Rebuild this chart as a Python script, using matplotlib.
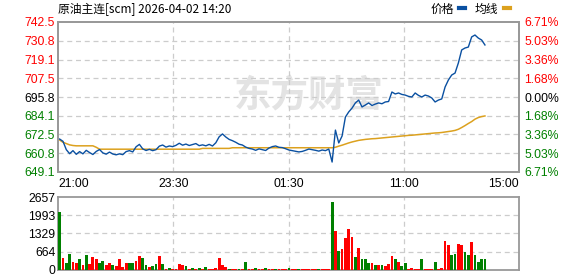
import matplotlib
matplotlib.use("Agg")
import matplotlib.pyplot as plt
from matplotlib.lines import Line2D
import numpy as np

plt.rcParams['font.family'] = ['Liberation Sans', 'Noto Sans CJK SC', 'DejaVu Sans']

# session is 555 minutes long, data sampled every 4 minutes up to 14:20
total_minutes = 555
step = 4

price = [669.6, 668.2, 663.0, 660.5, 662.4, 660.1, 661.8, 660.4, 662.6, 661.2,
         660.0, 661.9, 663.1, 661.0, 660.2, 661.5, 660.3, 659.8, 660.4, 659.9,
         661.8, 662.4, 661.6, 664.8, 666.3, 663.5, 662.5, 663.2, 662.4, 663.0,
         665.2, 665.9, 664.6, 665.3, 664.9, 665.7, 667.0, 665.8, 666.5, 665.6,
         666.2, 666.8, 665.5, 666.0, 665.4, 666.3, 665.3, 667.3, 671.0, 672.8,
         670.9, 669.4, 668.6, 667.6, 666.4, 665.9, 664.6, 663.8, 663.4, 662.6,
         663.5, 663.0, 662.5, 664.0, 664.9, 665.3, 664.5, 664.3, 663.6, 662.8,
         662.4, 662.0, 661.6, 661.9, 662.6, 663.4, 663.0, 662.6, 662.1, 662.8,
         662.4, 663.4, 655.3, 675.2, 667.2, 671.5, 683.3, 686.5, 688.9, 692.1,
         693.9, 689.6, 690.8, 692.1, 690.5, 691.4, 692.1, 691.6, 692.7, 693.0,
         698.9, 697.7, 698.3, 697.4, 697.0, 696.2, 695.8, 698.3, 696.8, 695.8,
         697.0, 696.4, 695.2, 692.7, 693.9, 694.6, 702.0, 706.4, 709.5, 710.7,
         717.0, 725.1, 726.3, 726.9, 733.2, 734.4, 732.5, 731.3, 728.2]

avg_price = [669.0, 667.6, 666.8, 666.0, 665.6, 665.4, 665.4, 665.4, 665.4, 665.4,
             665.4, 664.5, 663.3, 663.3, 663.3, 663.3, 663.3, 663.3, 663.3, 663.3,
             663.3, 663.3, 663.3, 663.3, 663.3, 663.3, 663.3, 663.3, 663.3, 663.3,
             663.3, 663.3, 663.3, 663.3, 663.3, 663.3, 663.3, 663.3, 663.3, 663.3,
             663.3, 663.3, 663.3, 663.8, 663.8, 663.8, 663.8, 663.8, 663.8, 663.8,
             663.8, 663.8, 664.2, 664.2, 664.2, 664.2, 664.2, 664.2, 664.2, 664.2,
             664.2, 664.2, 664.2, 664.2, 664.2, 664.2, 664.2, 664.2, 664.2, 664.2,
             664.2, 664.2, 664.2, 664.2, 664.2, 664.2, 664.2, 664.2, 664.2, 664.2,
             664.2, 664.2, 664.2, 664.5, 665.2, 665.8, 666.5, 667.2, 667.8, 668.3,
             668.8, 669.1, 669.4, 669.6, 669.8, 669.9, 670.1, 670.3, 670.5, 670.7,
             670.9, 671.1, 671.3, 671.5, 671.7, 671.9, 672.0, 672.2, 672.4, 672.6,
             672.8, 673.0, 673.2, 673.4, 673.5, 673.7, 674.0, 674.3, 674.6, 675.0,
             675.7, 676.8, 678.0, 679.3, 680.5, 682.0, 683.0, 683.6, 684.0]

volume = [2111, 450, 250, 600, 303, 250, 400, 190, 546, 220,
          485, 400, 240, 330, 200, 240, 180, 150, 400, 100,
          260, 240, 240, 330, 510, 425, 200, 120, 150, 220,
          510, 220, 40, 60, 30, 50, 230, 180, 160, 40,
          70, 30, 90, 40, 120, 50, 30, 80, 437, 200,
          120, 40, 30, 50, 30, 40, 300, 40, 30, 60,
          30, 40, 90, 30, 40, 30, 50, 30, 40, 70,
          30, 40, 30, 50, 30, 40, 30, 30, 40, 30,
          40, 30, 2463, 1420, 700, 765, 1153, 1492, 1213, 460,
          813, 400, 400, 240, 240, 200, 180, 180, 150, 220,
          510, 400, 300, 150, 240, 40, 60, 30, 40, 400,
          40, 30, 40, 300, 40, 60, 1056, 910, 546, 600,
          935, 910, 650, 550, 1008, 530, 280, 400, 400]

# 1 = up bar (red), 0 = down bar (green)
vol_up = [0, 1, 0, 0, 1, 1, 0, 1, 0, 1,
          1, 1, 0, 0, 1, 1, 0, 1, 1, 1,
          1, 0, 0, 1, 1, 0, 0, 1, 0, 0,
          1, 0, 1, 0, 1, 1, 1, 1, 0, 1,
          0, 1, 0, 1, 0, 1, 1, 1, 1, 1,
          1, 0, 1, 1, 0, 1, 0, 1, 1, 0,
          1, 1, 0, 1, 1, 0, 1, 1, 1, 0,
          1, 1, 0, 1, 1, 1, 1, 1, 0, 1,
          1, 1, 0, 1, 0, 1, 1, 1, 1, 0,
          1, 0, 0, 0, 1, 0, 1, 0, 1, 1,
          1, 0, 1, 0, 0, 1, 1, 1, 1, 0,
          1, 1, 1, 0, 1, 1, 1, 1, 0, 0,
          1, 1, 0, 0, 1, 0, 0, 0, 0]

price_ticks = [649.1, 660.8, 672.5, 684.1, 695.8, 707.5, 719.1, 730.8, 742.5]
pct_labels = ['6.71%', '5.03%', '3.36%', '1.68%', '0.00%', '1.68%', '3.36%', '5.03%', '6.71%']
prev_close = 695.8
vol_ticks = [0, 664, 1329, 1993, 2657]
time_labels = ['21:00', '23:30', '01:30', '11:00', '15:00']

blue = '#0a50a1'
gold = '#dca11e'
red = '#ff0000'
green = '#008000'
frame = '#999999'

W, H = 578, 276
fig = plt.figure(figsize=(W / 100, H / 100), dpi=100)
ax = fig.add_axes([58 / W, 1 - 172 / H, 461 / W, 150 / H])
axv = fig.add_axes([58 / W, 1 - 270 / H, 461 / W, 73 / H])

x = np.arange(len(price)) * step + step / 2
xgrid = np.linspace(0, total_minutes, len(time_labels))

# watermark
ax.text(0.545, 0.51, '东方财富', transform=ax.transAxes, fontsize=27, fontweight='bold',
        color='#e3e3e3', ha='center', va='center', family=['Noto Sans CJK SC'], zorder=0)

ax.plot(x, avg_price, color=gold, lw=1.1, zorder=3)
ax.plot(x, price, color=blue, lw=1.0, zorder=4)
ax.set_xlim(0, total_minutes)
ax.set_ylim(price_ticks[0], price_ticks[-1])

for v in price_ticks[1:-1]:
    ax.axhline(v, color='#cccccc', lw=0.9, ls=(0, (4, 3)), zorder=1)
for v in xgrid[1:-1]:
    ax.axvline(v, color='#cccccc', lw=0.9, ls=(0, (4, 3)), zorder=1)

def lvl_color(v):
    if v > prev_close + 0.01:
        return red
    if v < prev_close - 0.01:
        return green
    return 'black'

ax.set_yticks(price_ticks)
ax.set_yticklabels([f'{v:.1f}' for v in price_ticks], fontsize=8.8)
for lab, v in zip(ax.get_yticklabels(), price_ticks):
    lab.set_color(lvl_color(v))
ax.tick_params(axis='y', length=0, pad=2)

ax.set_xticks(xgrid)
ax.set_xticklabels(time_labels, fontsize=8.8)
ax.tick_params(axis='x', length=0, pad=4)
xl = ax.get_xticklabels()
xl[0].set_ha('left')
xl[-1].set_ha('right')

ax2 = ax.twinx()
ax2.set_ylim(price_ticks[0], price_ticks[-1])
ax2.set_yticks(price_ticks)
ax2.set_yticklabels(pct_labels, fontsize=8.8)
for lab, v in zip(ax2.get_yticklabels(), price_ticks):
    lab.set_color(lvl_color(v))
ax2.tick_params(axis='y', length=0, pad=4)

for a in (ax, ax2, axv):
    for s in a.spines.values():
        s.set_color(frame)
        s.set_linewidth(1.3)

# volume
colors = [red if u else green for u in vol_up]
axv.bar(x, volume, width=step * 0.85, color=colors, linewidth=0, zorder=3)
axv.set_xlim(0, total_minutes)
axv.set_ylim(0, vol_ticks[-1])
axv.set_yticks(vol_ticks)
axv.set_yticklabels([str(v) for v in vol_ticks], fontsize=8.8)
axv.tick_params(axis='y', length=0, pad=2)
axv.set_xticks([])
for v in vol_ticks[1:-1]:
    axv.axhline(v, color='#cccccc', lw=0.9, ls=(0, (4, 3)), zorder=1)
for v in xgrid[1:-1]:
    axv.axvline(v, color='#cccccc', lw=0.9, ls=(0, (4, 3)), zorder=1)

fig.text(58 / W, 1 - 9 / H, '原油主连[scm] 2026-04-02 14:20', fontsize=8.5,
         ha='left', va='center', family=['Noto Sans CJK SC', 'DejaVu Sans'])

handles = [Line2D([], [], color=blue, lw=3), Line2D([], [], color=gold, lw=3)]
fig.legend(handles, ['价格', '均线'], loc='center right', bbox_to_anchor=(516 / W, 1 - 9 / H),
           ncol=2, frameon=False, markerfirst=False, handlelength=0.5, handletextpad=0.5,
           columnspacing=0.8, borderpad=0, prop={'family': 'Noto Sans CJK SC', 'size': 8.5})

fig.savefig('out.png', dpi=100)
